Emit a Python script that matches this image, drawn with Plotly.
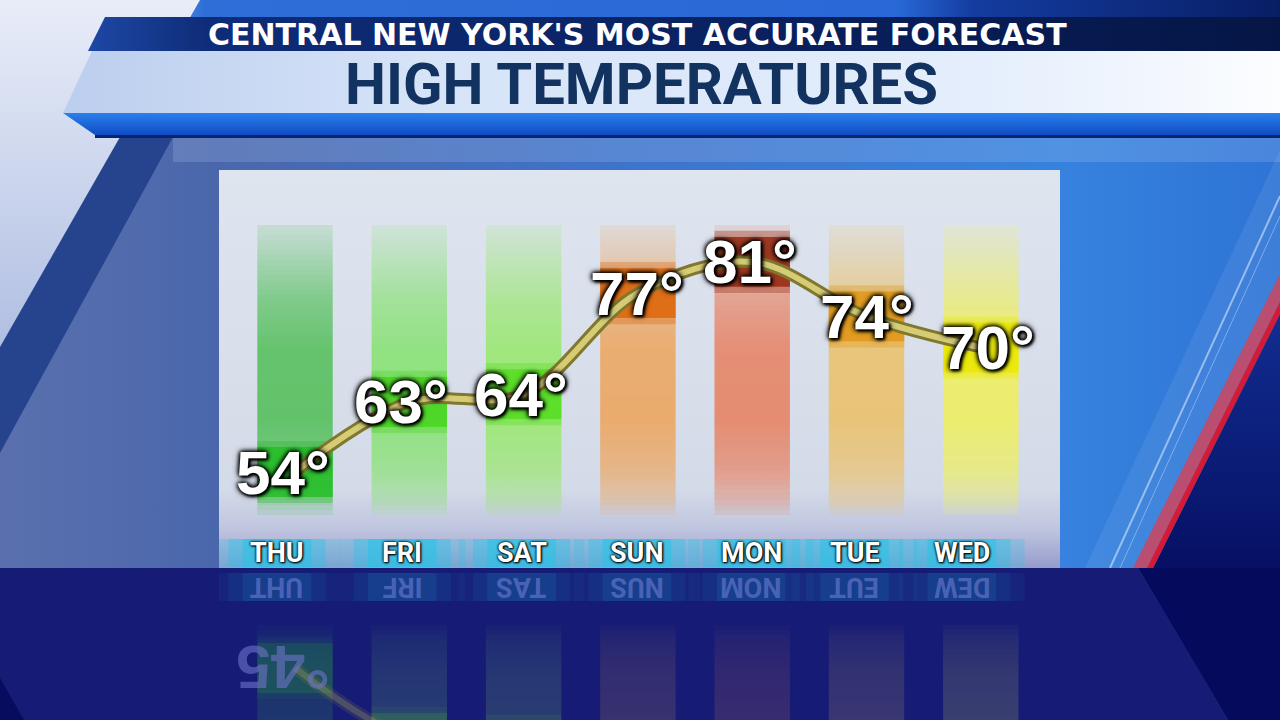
import numpy as np
import plotly.graph_objects as go

# ---------------- data ----------------
DAYS = ["THU", "FRI", "SAT", "SUN", "MON", "TUE", "WED"]
HIGHS = [54, 63, 64, 77, 81, 74, 70]
BAR_RGB = [(72, 188, 78), (128, 226, 104), (146, 232, 98), (238, 160, 82),
           (232, 122, 88), (236, 190, 96), (240, 240, 84)]
BOX_RGB = [(38, 190, 40), (72, 214, 32), (86, 222, 34), (222, 102, 12),
           (150, 42, 16), (226, 152, 22), (236, 234, 0)]
SUBTITLE = "CENTRAL NEW YORK'S MOST ACCURATE FORECAST"
TITLE = "HIGH TEMPERATURES"

# ---------------- geometry / style ----------------
W, H = 1280, 720
PANEL_L, PANEL_R, PANEL_T, PANEL_B = 219, 1060, 170, 568
MIRROR = 570
CAT0_PX, CAT_STEP = 295, 114.3
T_REF, T_REF_PX, PX_PER_DEG = 54, 472, 7.78
BAR_TOP_PX, BAR_BOT_PX, N_SEG = 225, 515, 58
BAR_W = 0.66
PROFILE_PX = [225, 255, 300, 350, 420, 470, 500, 515]
PROFILE_A = [0.14, 0.34, 0.62, 0.80, 0.82, 0.64, 0.38, 0.10]
TEMP_NUDGE = [-12, -8, -3, -1, -2, 0, 7]
DAY_NUDGE = [-18, -7, -2, -1, -1, -12, -19]
COND_FONT = "Roboto, Liberation Sans, Arial"


def frac(p):
    return (PANEL_B - p) / (PANEL_B - PANEL_T)


def temp(p):
    return T_REF + (T_REF_PX - p) / PX_PER_DEG


def rgba(c, a):
    return f"rgba({c[0]},{c[1]},{c[2]},{a:.3f})"


fig = go.Figure()


def poly(xs, ys, color=None, grad=None, gtype="vertical", opacity=1.0):
    kw = {}
    if grad is not None:
        cs = grad
        if gtype == "vertical":  # given top -> bottom in screen space
            cs = [[1 - p, c] for p, c in reversed(grad)]
        kw["fillgradient"] = dict(type=gtype, colorscale=cs)
    else:
        kw["fillcolor"] = color
    fig.add_trace(go.Scatter(
        x=list(xs) + [xs[0]], y=list(ys) + [ys[0]], mode="lines",
        line=dict(width=0, color="rgba(0,0,0,0)"), fill="toself",
        hoverinfo="skip", opacity=opacity, xaxis="x", yaxis="y", **kw))


def rect(x0, y0, x1, y1, color=None, grad=None, gtype="vertical", opacity=1.0):
    poly([x0, x1, x1, x0], [y0, y0, y1, y1], color, grad, gtype, opacity)


def seg(x0, y0, x1, y1, color, width):
    fig.add_trace(go.Scatter(x=[x0, x1], y=[y0, y1], mode="lines",
                             line=dict(color=color, width=width),
                             hoverinfo="skip", xaxis="x", yaxis="y"))


# ---------------- background (pixel space) ----------------
rect(0, 0, W, 570, grad=[[0, "rgb(90,112,174)"], [0.17, "rgb(74,103,172)"],
                        [0.5, "rgb(62,116,204)"], [0.83, "rgb(54,130,222)"],
                        [1, "rgb(46,116,214)"]], gtype="horizontal")
rect(0, 0, W, 18, grad=[[0, "rgb(212,222,242)"], [0.08, "rgb(170,195,235)"],
                       [0.16, "rgb(45,110,215)"], [0.7, "rgb(40,105,215)"],
                       [0.76, "rgb(20,60,160)"], [1, "rgb(8,30,100)"]],
     gtype="horizontal")
poly([0, 200, 0], [0, 0, 350],
     grad=[[0, "rgb(232,237,248)"], [1, "rgb(176,190,226)"]])
poly([120, 173, 0, 0], [137, 137, 453, 347], color="rgb(38,68,142)")

# right side diagonal decoration
poly([1085, 1150, 1280, 1280], [568, 568, 300, 150], color="rgba(200,220,250,0.10)")
poly([1153, 1280, 1280], [568, 314, 568],
     grad=[[0, "rgb(18,45,145)"], [1, "rgb(6,16,100)"]])
poly([1133, 1280, 1280, 1147], [568, 274, 302, 568], color="rgb(186,78,112)")
poly([1147, 1280, 1280, 1153], [568, 302, 314, 568], color="rgb(212,26,52)")
seg(1110, 568, 1280, 196, "rgba(225,238,255,0.55)", 2)
seg(1120, 568, 1280, 216, "rgba(225,238,255,0.40)", 1)

# header bars
poly([105, W, W, 88], [17, 17, 51, 51],
     grad=[[0, "rgb(30,72,165)"], [0.1, "rgb(14,44,120)"], [1, "rgb(5,22,70)"]],
     gtype="horizontal")
poly([92, W, W, 63], [51, 51, 113, 113],
     grad=[[0, "rgb(188,206,238)"], [0.3, "rgb(214,228,248)"],
           [0.75, "rgb(228,238,252)"], [1, "rgb(252,253,255)"]],
     gtype="horizontal")
poly([63, W, W, 95], [113, 113, 135, 135],
     grad=[[0, "rgb(42,128,236)"], [1, "rgb(16,76,196)"]])
rect(95, 135, W, 138, color="rgb(10,35,110)")
rect(173, 138, W, 162, color="rgba(205,220,248,0.18)")

# chart panel
rect(PANEL_L, PANEL_T, PANEL_R, PANEL_B,
     grad=[[0, "rgb(223,229,239)"], [0.8, "rgb(212,219,232)"],
           [0.9, "rgb(192,198,223)"], [1, "rgb(150,156,204)"]])

# floor (reflection area)
poly([0, 1138, 1228, 0], [568, 568, 720, 720], color="rgb(22,28,118)")
poly([1138, W, W, 1228], [568, 568, 720, 720], color="rgb(6,10,92)")
poly([0, 24, 0], [678, 720, 720], color="rgb(8,12,95)")


# ---------------- chart elements ----------------
def add_chart(xa, yf, yt, op=1.0):
    # vertical colour columns
    edges = np.linspace(BAR_TOP_PX, BAR_BOT_PX, N_SEG + 1)
    for k in range(N_SEG):
        p_top, p_bot = edges[k], edges[k + 1]
        a = float(np.interp((p_top + p_bot) / 2, PROFILE_PX, PROFILE_A))
        fig.add_trace(go.Bar(
            x=DAYS, y=[frac(p_top) - frac(p_bot)] * len(DAYS),
            base=[frac(p_bot)] * len(DAYS), width=BAR_W,
            marker=dict(color=[rgba(c, a) for c in BAR_RGB], line=dict(width=0)),
            opacity=op, xaxis=xa, yaxis=yf, hoverinfo="skip"))
    # cyan glow behind day names
    for w_, a_ in [(1.1, 0.25), (0.85, 0.35), (0.6, 0.5)]:
        fig.add_trace(go.Bar(
            x=DAYS, y=[frac(539) - frac(567)] * len(DAYS),
            base=[frac(567)] * len(DAYS), width=w_,
            offset=[-w_ / 2 + n / CAT_STEP for n in DAY_NUDGE],
            marker=dict(color=f"rgba(34,196,232,{a_})", line=dict(width=0)),
            opacity=op, xaxis=xa, yaxis=yf, hoverinfo="skip"))
    # coloured boxes behind the temperatures
    for hh, a_ in [(4.0, 0.35), (3.2, 0.85)]:
        fig.add_trace(go.Bar(
            x=DAYS, y=[2 * hh] * len(DAYS), base=[t - hh for t in HIGHS],
            width=BAR_W,
            marker=dict(color=[rgba(c, a_) for c in BOX_RGB], line=dict(width=0)),
            opacity=op, xaxis=xa, yaxis=yt, hoverinfo="skip"))
    # temperature trend line
    fig.add_trace(go.Scatter(
        x=DAYS, y=HIGHS, mode="lines",
        line=dict(shape="spline", smoothing=1.0, width=12, color="rgb(128,120,46)"),
        opacity=op, xaxis=xa, yaxis=yt, hoverinfo="skip"))
    fig.add_trace(go.Scatter(
        x=DAYS, y=HIGHS, mode="lines",
        line=dict(shape="spline", smoothing=1.0, width=6, color="rgb(214,204,118)"),
        opacity=op, xaxis=xa, yaxis=yt, hoverinfo="skip"))


add_chart("x2", "y2", "y3")
add_chart("x4", "y4", "y5", op=0.2)

ann = []
SHADOW_T = "0px 0px 4px #000, 0px 0px 4px #000, 0px 0px 7px #000, 2px 2px 3px #000"
SHADOW_D = "0px 0px 2px #000, 0px 0px 3px #000, 1px 1px 2px #000"
for d, t, n in zip(DAYS, HIGHS, TEMP_NUDGE):
    ann.append(dict(x=d, y=t, xref="x2", yref="y3", text=f"{t}°", showarrow=False,
                    xanchor="center", yanchor="middle", xshift=n,
                    font=dict(family="Liberation Sans, Arial", size=62,
                              color="white", weight="bold", shadow=SHADOW_T)))
    ann.append(dict(x=d, y=t, xref="x4", yref="y5", text=f"{t}°"[::-1],
                    textangle=180, showarrow=False, xshift=n,
                    xanchor="center", yanchor="middle",
                    font=dict(family="Liberation Sans, Arial", size=62,
                              color="rgba(110,115,200,0.6)", weight="bold")))
for d, n in zip(DAYS, DAY_NUDGE):
    ann.append(dict(x=d, y=frac(553), xref="x2", yref="y2", text=d, showarrow=False,
                    xanchor="center", yanchor="middle", xshift=n,
                    font=dict(family=COND_FONT, size=27, color="white",
                              weight="bold", shadow=SHADOW_D)))
    ann.append(dict(x=d, y=frac(553), xref="x4", yref="y4", text=d[::-1],
                    textangle=180, showarrow=False, xshift=n,
                    xanchor="center", yanchor="middle",
                    font=dict(family=COND_FONT, size=27,
                              color="rgba(120,130,220,0.55)", weight="bold")))

ann.append(dict(x=637 / W, y=1 - 34 / H, xref="paper", yref="paper", text=SUBTITLE,
                xanchor="center", yanchor="middle", showarrow=False,
                font=dict(family="DejaVu Sans", size=30, color="white", weight="bold")))
ann.append(dict(x=641 / W, y=1 - 84 / H, xref="paper", yref="paper", text=TITLE,
                xanchor="center", yanchor="middle", showarrow=False,
                font=dict(family=COND_FONT, size=58, color="rgb(18,50,96)",
                          weight="bold")))

hid = dict(visible=False, showgrid=False, zeroline=False, fixedrange=True)
x_rng = [(PANEL_L - CAT0_PX) / CAT_STEP, (PANEL_R - CAT0_PX) / CAT_STEP]
fig.update_layout(
    width=W, height=H, margin=dict(l=0, r=0, t=0, b=0, pad=0),
    paper_bgcolor="rgb(40,95,195)", plot_bgcolor="rgba(0,0,0,0)",
    showlegend=False, hovermode=False, barmode="overlay", annotations=ann,
    xaxis=dict(hid, domain=[0, 1], range=[0, W]),
    yaxis=dict(hid, domain=[0, 1], range=[H, 0]),
    xaxis2=dict(hid, domain=[PANEL_L / W, PANEL_R / W], range=x_rng, type="category",
                categoryorder="array", categoryarray=DAYS, anchor="y2"),
    yaxis2=dict(hid, domain=[(H - PANEL_B) / H, (H - PANEL_T) / H], range=[0, 1],
                anchor="x2"),
    yaxis3=dict(hid, overlaying="y2", range=[temp(PANEL_B), temp(PANEL_T)],
                anchor="x2"),
    xaxis4=dict(hid, domain=[PANEL_L / W, PANEL_R / W], range=x_rng, type="category",
                categoryorder="array", categoryarray=DAYS, anchor="y4"),
    yaxis4=dict(hid, domain=[0, (H - PANEL_B) / H],
                range=[frac(2 * MIRROR - H), frac(2 * MIRROR - PANEL_B)], anchor="x4"),
    yaxis5=dict(hid, overlaying="y4",
                range=[temp(2 * MIRROR - H), temp(2 * MIRROR - PANEL_B)], anchor="x4"),
)

fig.write_html("out.html", config={"displayModeBar": False},
               post_script="document.body.style.margin='0';")
